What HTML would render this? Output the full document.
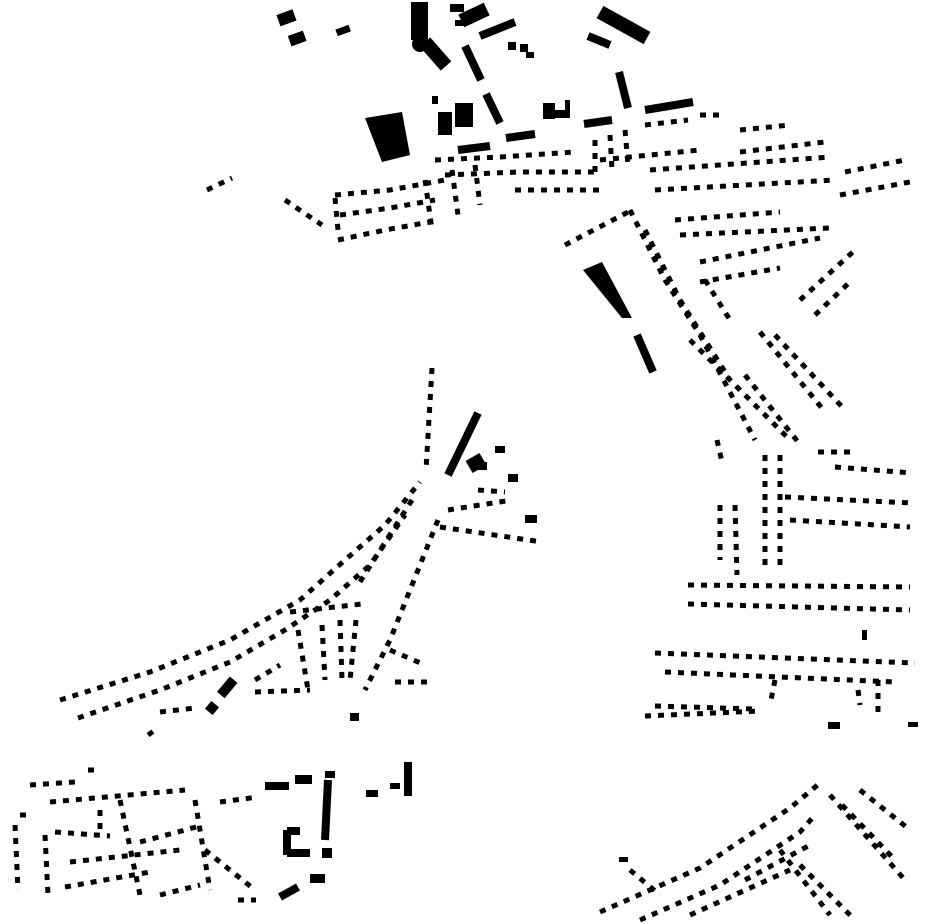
<!DOCTYPE html>
<html><head><meta charset="utf-8"><style>
html,body{margin:0;padding:0;background:#fff;width:930px;height:924px;overflow:hidden}
svg{display:block}
.d{stroke:#000;stroke-width:5;stroke-dasharray:6 7;fill:none}
.t{stroke:#000;fill:none}
</style></head><body>
<svg width="930" height="924" viewBox="0 0 930 924" xmlns="http://www.w3.org/2000/svg">
<g fill="#000">
<rect x="278" y="12" width="17" height="12" transform="rotate(-20 286 18)"/>
<rect x="289" y="33" width="16" height="11" transform="rotate(-20 297 38)"/>
<rect x="336" y="27" width="14" height="7" transform="rotate(-20 343 30)"/>
<rect x="411" y="2" width="17" height="38"/>
<circle cx="420" cy="44" r="8"/>
<rect x="450" y="4" width="14" height="8"/>
<rect x="460" y="8" width="28" height="14" transform="rotate(-25 474 15)"/>
<rect x="455" y="20" width="10" height="6"/>
<rect x="508" y="42" width="8" height="8"/><rect x="520" y="44" width="8" height="8"/><rect x="526" y="52" width="8" height="6"/>
<polygon points="365,118 402,112 410,155 382,162"/>
<rect x="438" y="112" width="14" height="23"/>
<rect x="455" y="103" width="18" height="24"/>
<rect x="432" y="96" width="6" height="8"/>
<rect x="543" y="103" width="12" height="16"/><rect x="555" y="110" width="15" height="8"/><rect x="565" y="100" width="5" height="12"/>
<polygon points="583,270 602,262 632,318 622,318"/>
<rect x="468" y="456" width="16" height="14" transform="rotate(-30 476 463)"/>
<rect x="477" y="462" width="10" height="8"/>
<rect x="495" y="446" width="10" height="7"/>
<rect x="508" y="474" width="10" height="8"/>
<rect x="525" y="515" width="12" height="8"/>
<rect x="222" y="678" width="10" height="20" transform="rotate(40 228 688)"/>
<rect x="207" y="703" width="10" height="10" transform="rotate(40 212 708)"/>
<rect x="350" y="713" width="9" height="8"/>
<rect x="265" y="782" width="24" height="8"/>
<rect x="295" y="775" width="17" height="9"/>
<rect x="325" y="771" width="10" height="7"/>
<rect x="404" y="762" width="8" height="34"/>
<rect x="366" y="790" width="12" height="7"/>
<rect x="390" y="783" width="10" height="6"/>
<rect x="322" y="848" width="10" height="10"/>
<rect x="310" y="874" width="15" height="9"/>
<rect x="862" y="630" width="5" height="10"/>
<rect x="828" y="722" width="12" height="7"/>
<rect x="908" y="722" width="10" height="5"/>
<rect x="619" y="857" width="9" height="5"/>
</g>
<g class="t" stroke-width="14">
<line x1="425" y1="42" x2="446" y2="66"/>
<line x1="600" y1="12" x2="647" y2="38"/>
</g>
<g class="t" stroke-width="8">
<line x1="480" y1="36" x2="515" y2="22"/>
<line x1="588" y1="36" x2="610" y2="45"/>
<line x1="465" y1="46" x2="481" y2="80"/>
<line x1="619" y1="72" x2="628" y2="108"/>
<line x1="486" y1="94" x2="500" y2="123"/>
<line x1="645" y1="110" x2="693" y2="102"/>
<line x1="584" y1="124" x2="612" y2="120"/>
<line x1="506" y1="138" x2="535" y2="134"/>
<line x1="458" y1="150" x2="490" y2="146"/>
<line x1="637" y1="335" x2="653" y2="372"/>
<line x1="448" y1="475" x2="478" y2="413"/>
<line x1="287" y1="830" x2="287" y2="855"/>
<line x1="287" y1="853" x2="310" y2="853"/>
<line x1="287" y1="831" x2="300" y2="831"/>
<line x1="328" y1="780" x2="325" y2="840"/>
<line x1="280" y1="897" x2="298" y2="887"/>
</g>
<g class="d">
<polyline points="435,160 500,157 575,152"/>
<polyline points="445,175 520,172 600,172"/>
<polyline points="335,195 390,190 445,180"/>
<polyline points="340,215 390,208 435,200"/>
<polyline points="338,240 385,230 430,222"/>
<polyline points="335,198 338,230"/>
<polyline points="425,180 432,230"/>
<polyline points="452,170 458,215"/>
<polyline points="475,165 480,205"/>
<line x1="285" y1="200" x2="322" y2="225"/>
<line x1="207" y1="190" x2="232" y2="178"/>
<line x1="515" y1="190" x2="600" y2="190"/>
<line x1="600" y1="160" x2="700" y2="150"/>
<line x1="595" y1="140" x2="595" y2="175"/>
<line x1="610" y1="135" x2="612" y2="170"/>
<line x1="625" y1="130" x2="628" y2="165"/>
<line x1="645" y1="125" x2="688" y2="120"/>
<line x1="700" y1="115" x2="725" y2="115"/>
<line x1="740" y1="130" x2="790" y2="125"/>
<line x1="740" y1="152" x2="825" y2="142"/>
<line x1="650" y1="170" x2="830" y2="157"/>
<line x1="655" y1="190" x2="835" y2="180"/>
<line x1="845" y1="172" x2="905" y2="160"/>
<line x1="840" y1="195" x2="910" y2="182"/>
<line x1="675" y1="220" x2="780" y2="212"/>
<line x1="680" y1="235" x2="830" y2="228"/>
<line x1="700" y1="262" x2="820" y2="238"/>
<line x1="700" y1="282" x2="780" y2="268"/>
<line x1="800" y1="300" x2="855" y2="250"/>
<line x1="815" y1="315" x2="852" y2="280"/>
<line x1="705" y1="280" x2="730" y2="320"/>
<line x1="565" y1="245" x2="632" y2="210"/>
<polyline points="630,210 665,280 700,335 755,440"/>
<polyline points="645,230 680,300 730,380"/>
<line x1="690" y1="340" x2="790" y2="440"/>
<line x1="760" y1="332" x2="825" y2="412"/>
<line x1="775" y1="335" x2="845" y2="410"/>
<line x1="745" y1="375" x2="798" y2="442"/>
<line x1="717" y1="440" x2="722" y2="462"/>
<line x1="765" y1="455" x2="765" y2="565"/>
<line x1="780" y1="455" x2="780" y2="565"/>
<line x1="720" y1="505" x2="720" y2="560"/>
<line x1="735" y1="505" x2="737" y2="575"/>
<line x1="785" y1="497" x2="912" y2="503"/>
<line x1="790" y1="520" x2="910" y2="527"/>
<line x1="818" y1="452" x2="856" y2="452"/>
<line x1="835" y1="467" x2="912" y2="473"/>
<line x1="688" y1="585" x2="910" y2="587"/>
<line x1="688" y1="604" x2="910" y2="610"/>
<line x1="655" y1="653" x2="915" y2="663"/>
<line x1="665" y1="672" x2="895" y2="682"/>
<line x1="645" y1="716" x2="760" y2="711"/>
<line x1="655" y1="706" x2="755" y2="709"/>
<line x1="775" y1="680" x2="770" y2="705"/>
<line x1="878" y1="680" x2="878" y2="715"/>
<line x1="858" y1="690" x2="860" y2="705"/>
<line x1="432" y1="368" x2="426" y2="470"/>
<line x1="448" y1="510" x2="512" y2="500"/>
<line x1="478" y1="490" x2="505" y2="492"/>
<line x1="440" y1="527" x2="542" y2="542"/>
<polyline points="60,700 150,672 230,640 300,600 345,560 385,525 420,482"/>
<polyline points="78,718 160,690 230,662 285,630 330,600 370,565 405,515"/>
<polyline points="438,520 410,590 390,640 365,690"/>
<line x1="412" y1="500" x2="358" y2="585"/>
<line x1="290" y1="612" x2="362" y2="604"/>
<line x1="298" y1="630" x2="308" y2="690"/>
<line x1="322" y1="625" x2="325" y2="680"/>
<line x1="340" y1="620" x2="342" y2="680"/>
<line x1="356" y1="620" x2="350" y2="680"/>
<line x1="255" y1="692" x2="310" y2="690"/>
<line x1="255" y1="680" x2="280" y2="665"/>
<line x1="160" y1="712" x2="195" y2="708"/>
<line x1="148" y1="735" x2="158" y2="728"/>
<line x1="390" y1="650" x2="425" y2="665"/>
<line x1="395" y1="682" x2="428" y2="682"/>
<line x1="30" y1="785" x2="75" y2="782"/>
<line x1="88" y1="770" x2="98" y2="770"/>
<line x1="15" y1="825" x2="18" y2="890"/>
<line x1="20" y1="815" x2="33" y2="815"/>
<line x1="50" y1="802" x2="185" y2="790"/>
<line x1="55" y1="832" x2="110" y2="836"/>
<line x1="45" y1="835" x2="48" y2="895"/>
<line x1="70" y1="862" x2="180" y2="850"/>
<line x1="65" y1="887" x2="150" y2="872"/>
<line x1="140" y1="842" x2="200" y2="826"/>
<line x1="120" y1="800" x2="140" y2="895"/>
<line x1="100" y1="810" x2="100" y2="835"/>
<line x1="195" y1="800" x2="210" y2="890"/>
<line x1="220" y1="802" x2="258" y2="797"/>
<line x1="205" y1="850" x2="255" y2="890"/>
<line x1="160" y1="895" x2="200" y2="885"/>
<line x1="238" y1="900" x2="256" y2="900"/>
<polyline points="600,912 700,868 790,808 820,783"/>
<polyline points="640,920 720,885 800,832 815,815"/>
<line x1="690" y1="915" x2="790" y2="870"/>
<line x1="745" y1="880" x2="810" y2="845"/>
<line x1="830" y1="795" x2="905" y2="880"/>
<line x1="860" y1="790" x2="910" y2="830"/>
<line x1="842" y1="805" x2="895" y2="860"/>
<line x1="780" y1="850" x2="830" y2="915"/>
<line x1="800" y1="865" x2="855" y2="920"/>
<line x1="630" y1="870" x2="660" y2="895"/>
</g>
</svg>
</body></html>
